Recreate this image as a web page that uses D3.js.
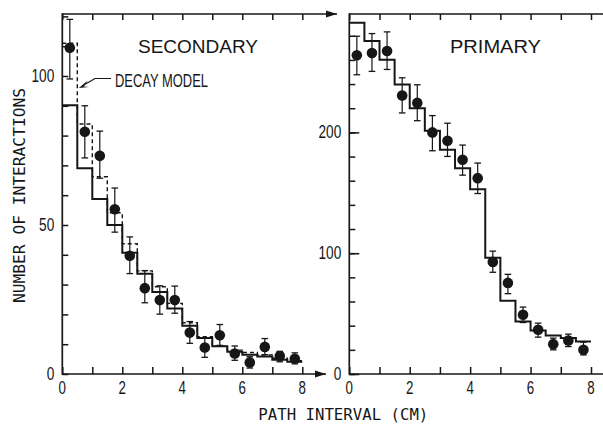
<!DOCTYPE html>
<html><head><meta charset="utf-8">
<script src="https://cdn.jsdelivr.net/npm/d3@7"></script>
<style>
html,body{margin:0;padding:0;background:#fff;}
svg{display:block;}
</style>
</head><body>
<svg id="c" width="603" height="425"></svg>
<script>
// ---------- DATA ----------
const binStart = [0,0.5,1,1.5,2,2.5,3,3.5,4,4.5,5,5.5,6,6.5,7,7.5];
const binCenter = [0.25,0.75,1.25,1.75,2.25,2.75,3.25,3.75,4.25,4.75,5.25,5.75,6.25,6.75,7.25,7.75];

// Secondary panel
const secPoints = [109.5,81.3,73.2,55.3,39.7,28.8,24.8,24.8,13.9,8.9,13.0,6.9,3.9,9.1,6.0,5.1];
const secErrLo  = [99,72.5,65.7,47.6,33.7,23.9,20.1,20.4,10.3,5.6,9.6,4.6,2.0,6.5,4.1,3.4];
const secErrHi  = [119,90,81.5,62.4,46,34.7,29.6,29.5,17.6,12.2,16.6,9.4,5.8,11.9,7.6,7.1];
const secModel  = [90.2,69,58.7,50,40.7,33.6,27.5,22,16.2,12.1,9.3,7.5,6.5,5.9,4.8,4.1];
const secDecay  = [111,83.9,66.2,54.1,43.7,34.6,29.3,23.7,17.2,12.5,9.3,8,7.2,6.4,5.3,4.5];

// Primary panel
const priPoints = [263.8,265.7,267.4,230.5,224.4,200,193.1,177.3,162.1,92.8,75.4,49,36.6,24.7,27.7,20];
const priErrLo  = [247.7,250.5,252.1,216.1,209.7,184.8,180.1,164.6,149.4,84.2,66.5,42.6,30.5,20,22.7,15.8];
const priErrHi  = [279.6,281.8,283.2,245.2,239.4,213.9,207.6,189.5,174.6,101.7,82.5,55.4,42.1,29.7,33,26.4];
const priModel  = [290.7,275.7,260.2,239.7,220,201.4,185.6,170.4,153,96.2,60.7,43.5,36,31.8,29.7,26.9];

// Ticks / labels
const xTickLabels = [0,2,4,6,8];
const secYTickLabels = [0,50,100];
const priYTickLabels = [0,100,200];
const secTitle = "SECONDARY";
const priTitle = "PRIMARY";
const decayLabel = "DECAY MODEL";
const yAxisTitle = "NUMBER OF INTERACTIONS";
const xAxisTitle = "PATH INTERVAL (CM)";

// ---------- DRAW ----------
const INK = "#161616";
const svg = d3.select("#c");
const g = svg.append("g");

const xL = d3.scaleLinear().domain([0,8]).range([62.3,302.3]);
const yL = d3.scaleLinear().domain([0,120.8]).range([374,14]);
const xR = d3.scaleLinear().domain([0,8]).range([349.3,591]);
const yR = d3.scaleLinear().domain([0,298]).range([374,14]);

function condText(parent, x, y, txt, opts) {
  opts = opts || {};
  return parent.append("text")
    .attr("transform", `translate(${x},${y}) scale(${opts.sx||0.75},1)`)
    .attr("text-anchor", opts.anchor || "middle")
    .attr("font-family", opts.font || "Liberation Sans, Arial, sans-serif")
    .attr("font-size", opts.size || 17)
    .attr("fill", INK)
    .text(txt);
}

function styleAxis(sel) {
  sel.select(".domain").remove();
  sel.selectAll("line").attr("stroke", INK).attr("stroke-width", 1.5);
  sel.selectAll("text").remove();
}

function arrowHead(x, y) {
  g.append("path")
    .attr("d", `M${x},${y} L${x-11},${y-3.6} L${x-11},${y+3.6} Z`)
    .attr("fill", INK);
}

function panel(x, y, opts) {
  const [x0, x1] = x.range();
  const [yb, yt] = y.range();
  // ticks
  g.append("g").attr("transform", `translate(0,${yb})`)
    .call(d3.axisBottom(x).tickValues(d3.range(0,9,1)).tickSize(-7)).call(styleAxis);
  g.append("g").attr("transform", `translate(0,${yt})`)
    .call(d3.axisTop(x).tickValues(d3.range(0,9,1)).tickSize(-6)).call(styleAxis);
  g.append("g").attr("transform", `translate(${x0},0)`)
    .call(d3.axisLeft(y).tickValues(opts.minor).tickSize(-6)).call(styleAxis);
  if (opts.major) {
    g.append("g").attr("transform", `translate(${x0},0)`)
      .call(d3.axisLeft(y).tickValues(opts.major).tickSize(-10)).call(styleAxis);
  }
  // spines
  g.append("line").attr("x1", x0).attr("x2", x0).attr("y1", yb + 0.8).attr("y2", yt - 0.8)
    .attr("stroke", INK).attr("stroke-width", 1.7);
  g.append("line").attr("x1", x0).attr("x2", opts.topEnd).attr("y1", yt).attr("y2", yt)
    .attr("stroke", INK).attr("stroke-width", 1.7);
  g.append("line").attr("x1", x0).attr("x2", opts.botEnd).attr("y1", yb).attr("y2", yb)
    .attr("stroke", INK).attr("stroke-width", 1.7);
  if (opts.arrows) {
    arrowHead(opts.topEnd, yt);
    arrowHead(opts.botEnd, yb);
  }
  // tick labels
  xTickLabels.forEach(v => condText(g, x(v), yb + 20, String(v), {size: 18, sx: 0.74}));
  opts.yLabels.forEach(v => condText(g, x0 - 8, y(v) + 6, String(v), {anchor: "end", size: 17.5, sx: 0.78}));
}

panel(xL, yL, {
  minor: d3.range(0, 121, 10),
  topEnd: 337, botEnd: 326, arrows: true,
  yLabels: secYTickLabels
});
panel(xR, yR, {
  minor: d3.range(0, 298, 20),
  major: priYTickLabels,
  topEnd: 603, botEnd: 603, arrows: false,
  yLabels: priYTickLabels
});

function stepLine(x, y, vals, dashed, width) {
  const pts = binStart.map((b, i) => [b, vals[i]]);
  pts.push([8, vals[vals.length - 1]]);
  const line = d3.line().x(d => x(d[0])).y(d => y(d[1])).curve(d3.curveStepAfter);
  g.append("path").attr("d", line(pts))
    .attr("fill", "none").attr("stroke", INK)
    .attr("stroke-width", width)
    .attr("stroke-dasharray", dashed ? "4,3" : null);
}

function points(x, y, vals, lo, hi) {
  const eg = g.append("g");
  binCenter.forEach((c, i) => {
    const cx = x(c);
    eg.append("line").attr("x1", cx).attr("x2", cx).attr("y1", y(lo[i])).attr("y2", y(hi[i]))
      .attr("stroke", INK).attr("stroke-width", 1.2);
    [lo[i], hi[i]].forEach(v => {
      eg.append("line").attr("x1", cx - 3.3).attr("x2", cx + 3.3).attr("y1", y(v)).attr("y2", y(v))
        .attr("stroke", INK).attr("stroke-width", 1.3);
    });
    eg.append("circle").attr("cx", cx).attr("cy", y(vals[i])).attr("r", 5.3).attr("fill", INK);
  });
}

stepLine(xL, yL, secDecay, true, 1.4);
stepLine(xL, yL, secModel, false, 2);
points(xL, yL, secPoints, secErrLo, secErrHi);

stepLine(xR, yR, priModel, false, 2);
points(xR, yR, priPoints, priErrLo, priErrHi);

// Titles
g.append("text").attr("x", 138).attr("y", 53.3)
  .attr("font-family", "Liberation Sans, Arial, sans-serif").attr("font-size", 18)
  .attr("textLength", 120).attr("lengthAdjust", "spacingAndGlyphs")
  .attr("fill", INK).text(secTitle);
g.append("text").attr("x", 450).attr("y", 52.5)
  .attr("font-family", "Liberation Sans, Arial, sans-serif").attr("font-size", 18.5)
  .attr("textLength", 91).attr("lengthAdjust", "spacingAndGlyphs")
  .attr("fill", INK).text(priTitle);

// Decay model label + arrow
g.append("text").attr("x", 115).attr("y", 87.3)
  .attr("font-family", "Liberation Sans, Arial, sans-serif").attr("font-size", 18.5)
  .attr("textLength", 93).attr("lengthAdjust", "spacingAndGlyphs")
  .attr("fill", INK).text(decayLabel);
const tipX = xL(0.5) + 1.5, tipY = yL(96);
g.append("path").attr("d", `M111,78.5 L95,78.5 L${tipX + 5},${tipY - 3}`)
  .attr("fill", "none").attr("stroke", INK).attr("stroke-width", 1.2);
g.append("path").attr("d", `M${tipX},${tipY} L${tipX + 9},${tipY - 7.5} L${tipX + 5},${tipY - 1.5} L${tipX + 10},${tipY - 1} Z`)
  .attr("fill", INK);

// Axis titles
g.append("text")
  .attr("transform", "translate(25,195.5) rotate(-90)")
  .attr("text-anchor", "middle")
  .attr("font-family", "DejaVu Sans Mono, monospace").attr("font-size", 16)
  .attr("textLength", 215).attr("lengthAdjust", "spacingAndGlyphs")
  .attr("fill", INK).text(yAxisTitle);
g.append("text")
  .attr("x", 343.3).attr("y", 420)
  .attr("text-anchor", "middle")
  .attr("font-family", "DejaVu Sans Mono, monospace").attr("font-size", 16.5)
  .attr("textLength", 170).attr("lengthAdjust", "spacingAndGlyphs")
  .attr("fill", INK).text(xAxisTitle);
</script>
</body></html>
